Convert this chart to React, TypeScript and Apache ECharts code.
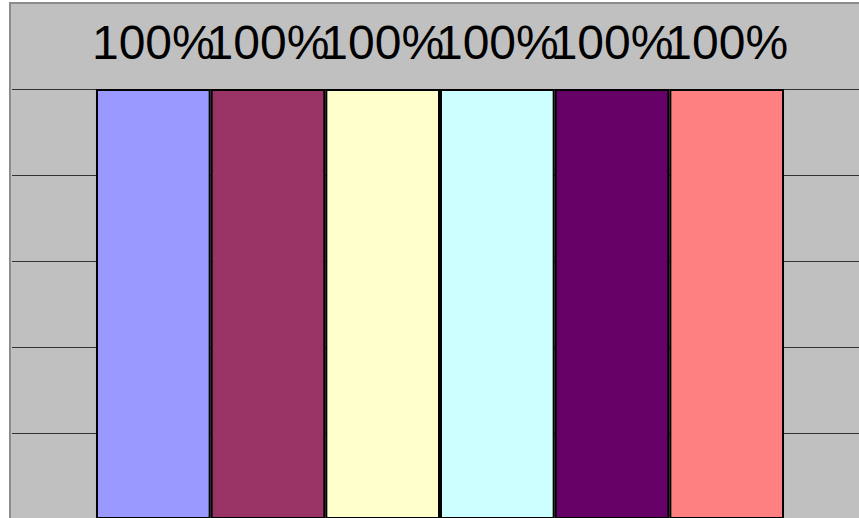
import React, { useEffect, useRef } from "react";
import * as echarts from "echarts";

const categories = [""];
const seriesNames = ["Series 1", "Series 2", "Series 3", "Series 4", "Series 5", "Series 6"];
const seriesValues = [100, 100, 100, 100, 100, 100];
const seriesColors = ["#9999FF", "#993366", "#FFFFCC", "#CCFFFF", "#660066", "#FF8080"];
const yTicks = { min: 0, max: 100, interval: 20 };

export default function App() {
  const ref = useRef<HTMLDivElement>(null);
  useEffect(() => {
    if (!ref.current) return;
    const chart = echarts.init(ref.current, null, { renderer: "svg" });
    chart.setOption({
      animation: false,
      backgroundColor: "#FFFFFF",
      graphic: [
        {
          type: "rect",
          z: -10,
          silent: true,
          shape: { x: 10, y: 3, width: 880, height: 530 },
          style: { fill: "#C0C0C0", stroke: "#8C8C8C", lineWidth: 2 },
        },
      ],
      grid: { left: 12, top: 89, width: 856, height: 430, containLabel: false },
      xAxis: {
        type: "category",
        data: categories,
        axisLine: { show: false },
        axisTick: { show: false },
        axisLabel: { show: false },
      },
      yAxis: {
        type: "value",
        min: yTicks.min,
        max: yTicks.max,
        interval: yTicks.interval,
        axisLine: { show: false },
        axisTick: { show: false },
        axisLabel: { show: false },
        splitLine: { show: true, lineStyle: { color: "#333333", width: 1 } },
      },
      series: seriesNames.map((name, i) => ({
        name,
        type: "bar",
        data: [seriesValues[i]],
        barWidth: 114.67,
        barGap: "0%",
        itemStyle: { color: seriesColors[i], borderColor: "#000000", borderWidth: 2 },
        label: {
          show: true,
          position: "top",
          distance: 23,
          formatter: "{c}%",
          fontFamily: "Liberation Sans, Arial, sans-serif",
          fontSize: 48,
          color: "#000000",
        },
      })),
    });
    return () => chart.dispose();
  }, []);
  return (
    <div style={{ position: "fixed", left: 0, top: 0, width: 859, height: 518, overflow: "hidden" }}>
      <div ref={ref} style={{ width: 900, height: 540 }} />
    </div>
  );
}
